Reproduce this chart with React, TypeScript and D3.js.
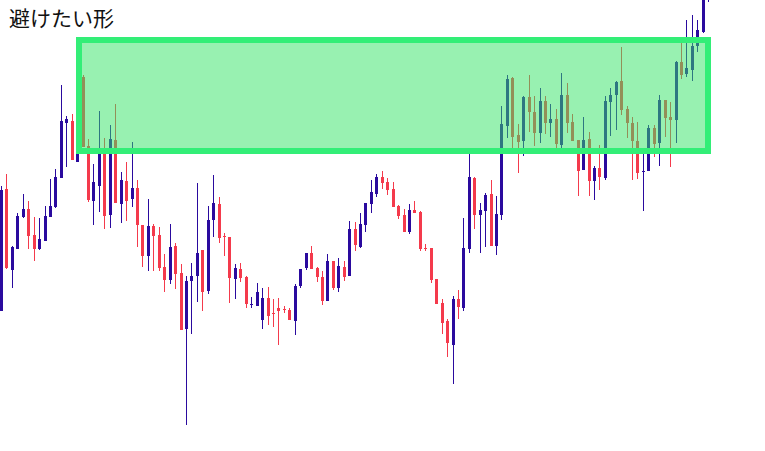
import React from "react";
import * as d3 from "d3";

const WIDTH = 765;
const HEIGHT = 451;

const title = "避けたい形";

// OHLC values (arbitrary price units)
const opens = [
  189, 311, 230, 251, 283, 291, 265, 251, 259, 283, 293, 322, 377, 379, 338, 423, 354, 299, 314, 348,
  285, 360, 296, 319, 301, 312, 275, 244, 274, 265, 233, 220, 254, 227, 171, 219, 224, 250, 209, 280,
  296, 264.5, 263, 221, 231, 223, 195.5, 194, 180, 202, 187.5, 192, 191.5, 190, 179, 214, 232, 247, 232, 223,
  199, 239, 212, 233, 224, 271, 253, 275, 296, 306, 323, 318, 311, 294, 285, 268, 290, 288, 252.5, 252,
  221, 197, 179, 155, 201, 192, 251, 322, 285, 289, 306, 254, 285, 374, 422, 365, 359, 403, 388, 367,
  399, 377, 381, 355, 405, 378, 360, 330, 361, 319, 332, 322, 398, 405, 419, 391, 377, 359, 328.5, 329,
  372, 357, 400, 383, 380, 438, 426, 430, 454, 468, 504,
];
const highs = [
  314, 326, 254, 287, 306, 299, 283, 282, 294, 321, 331, 415, 384, 386, 425, 425, 361, 336, 389, 362,
  375, 396, 328, 338, 358, 320, 275, 301, 276, 273, 246, 276, 257, 236, 224, 237, 317, 250, 294, 325,
  303, 267, 263, 236, 237, 224, 203, 217, 212, 213, 201, 202, 194, 192, 216, 231, 247, 254, 233, 229,
  246, 239, 242, 239, 279, 278, 287, 297, 320, 326, 329, 322, 318, 295, 291, 296, 299, 289, 256, 252,
  221, 201, 181, 204, 210, 282, 348, 323, 297, 307, 320, 304, 394, 425, 423, 376, 404, 425, 404, 412,
  404, 396, 391, 427, 417, 386, 360, 383, 368, 334, 355, 404, 412, 419, 453, 394, 383, 378, 348, 375,
  375, 405, 400, 398, 439, 458, 480, 485, 480, 510, 525,
];
const lows = [
  189, 231, 212, 251, 282, 251, 239, 250, 259, 283, 292, 322, 333, 340, 338, 353, 298, 275, 288, 271,
  272, 297, 277, 279, 293, 253, 233, 229, 229, 229, 208, 216, 211, 170, 75, 166, 198, 189, 206, 263,
  257, 244, 197, 201, 218, 192, 192, 194, 171, 175, 173, 155, 187, 180, 165, 212, 230, 231, 218, 195,
  199, 210, 208, 219, 224, 249, 252, 268, 287, 303, 311, 305, 293, 281, 268, 266, 287, 249, 249, 217,
  196, 166, 143, 116, 181, 189, 247, 271, 247, 253, 254, 245, 280, 362, 350, 327, 344, 368, 354, 357,
  366, 363, 352, 352, 367, 359, 304, 330, 304, 300, 310, 320, 364, 370, 385, 362, 320, 321, 289, 329,
  343, 334, 363, 333, 357, 421, 423, 419, 448, 467, 498,
];
const closes = [
  310, 232, 253, 284, 291, 264, 251, 261, 284, 294, 323, 379, 381, 340, 422, 353, 300, 318, 348, 284,
  361, 297, 320, 299, 312, 275, 244, 274, 264, 232, 220, 253, 226, 170, 219, 224, 247, 208, 280, 297,
  262, 263.5, 222, 232, 222, 196, 196.5, 208, 202, 184, 186.5, 189, 190.5, 180, 214, 231, 247, 231, 223, 199,
  239, 212, 234, 223, 271, 255, 276, 297, 308, 323, 317, 310, 293, 284, 268, 290, 287, 251, 251.5, 220,
  196, 177, 157, 201, 193, 252, 323, 285, 290, 305, 254, 286, 376, 421, 363, 358, 403, 388, 367, 399,
  377, 381, 356, 405, 377, 359, 329, 360, 319, 332, 323, 399, 405, 418, 390, 377, 359, 327, 329.5, 372,
  356, 400, 382, 380, 438, 425, 432, 454, 470, 506, 520,
];

// highlighted zone: candle index range and price range
const zoneIndex = [14.25, 129.9];
const zonePrice = [349, 460];

const upColor = "#2a0a9e";
const downColor = "#f43a4c";
const zoneStroke = "#33ee77";
const zoneFill = "#32e463";

export default function App() {
  const n = opens.length;
  const x = d3.scaleLinear().domain([0, n - 1]).range([1.5, 708.7]);
  const y = d3.scaleLinear().domain([49, 500]).range([HEIGHT, 0]);

  const candles = d3.range(n).map((i) => {
    const o = opens[i];
    const c = closes[i];
    const up = c >= o;
    const cx = x(i);
    const left = Math.round(cx - 1.5);
    const yTop = Math.round(y(Math.max(o, c)));
    const yBot = Math.round(y(Math.min(o, c)));
    const yH = Math.round(y(highs[i]));
    const yL = Math.round(y(lows[i]));
    const color = up ? upColor : downColor;
    return (
      <g key={i}>
        <rect x={left + 1} y={yH} width={1} height={Math.max(1, yL - yH)} fill={color} />
        <rect x={left} y={yTop} width={3} height={Math.max(1, yBot - yTop)} fill={color} />
      </g>
    );
  });

  const zx0 = x(zoneIndex[0]);
  const zx1 = x(zoneIndex[1]);
  const zy0 = y(zonePrice[1]);
  const zy1 = y(zonePrice[0]);

  return (
    <div style={{ position: "fixed", left: 0, top: 0, width: WIDTH, height: HEIGHT, background: "#fff" }}>
      <svg width={WIDTH} height={HEIGHT} style={{ display: "block" }} shapeRendering="crispEdges">
        <rect x={0} y={0} width={WIDTH} height={HEIGHT} fill="#ffffff" />
        {candles}
        <rect
          x={Math.round(zx0)}
          y={Math.round(zy0)}
          width={Math.round(zx1 - zx0)}
          height={Math.round(zy1 - zy0)}
          fill={zoneFill}
          fillOpacity={0.5}
          stroke={zoneStroke}
          strokeWidth={6}
        />
        <text
          x={9}
          y={26}
          fontFamily="'Noto Sans CJK JP', sans-serif"
          fontSize={21}
          fill="#111"
        >
          {title}
        </text>
      </svg>
    </div>
  );
}
